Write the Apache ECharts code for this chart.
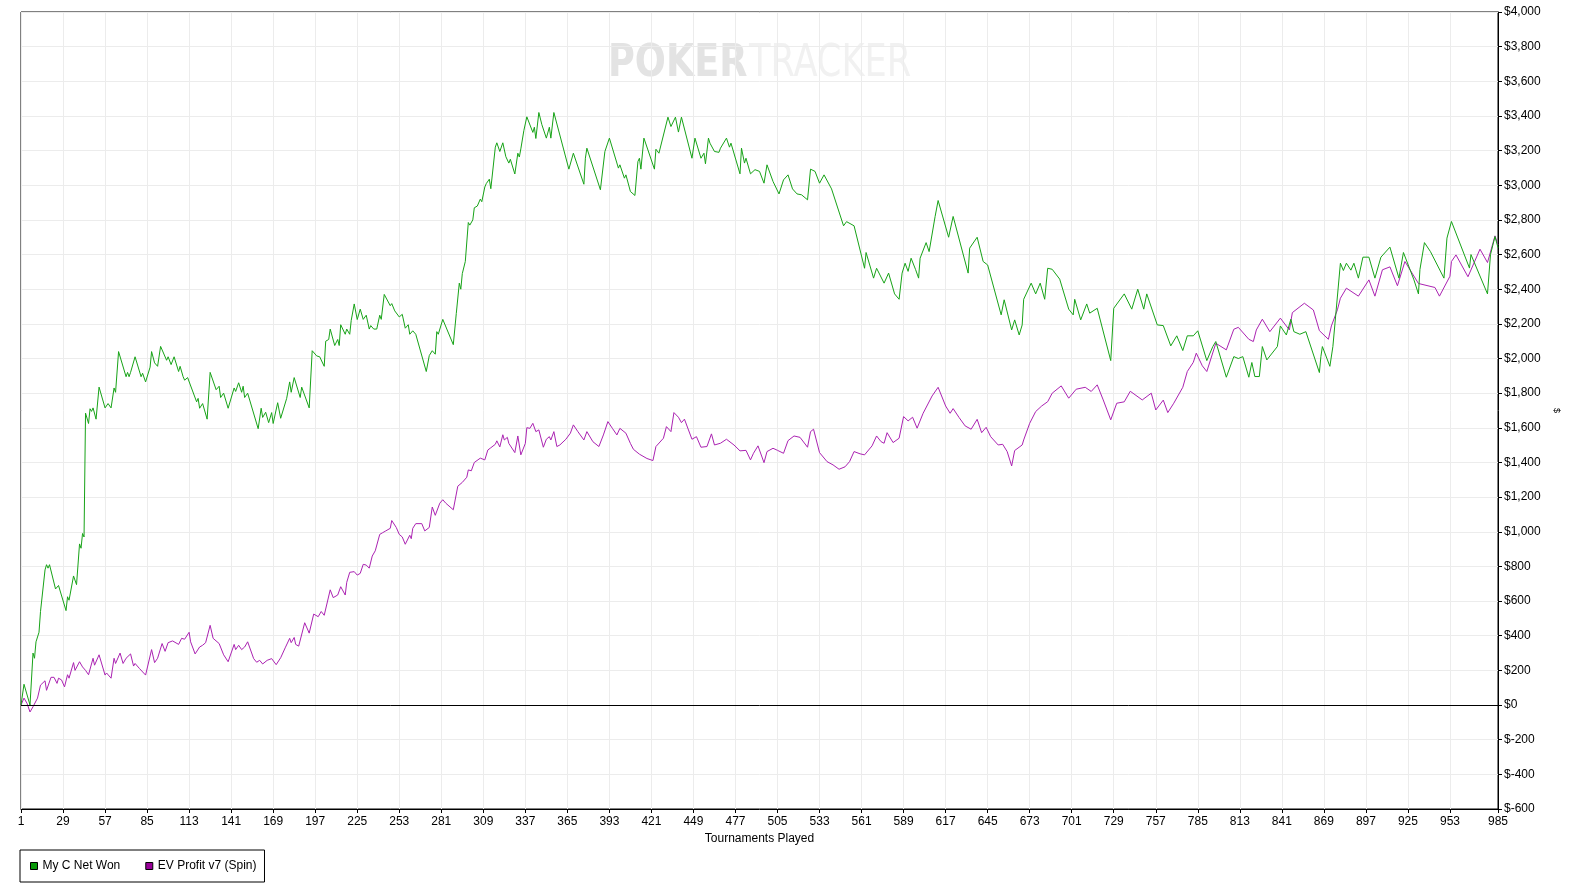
<!DOCTYPE html>
<html><head><meta charset="utf-8">
<script src="https://cdn.jsdelivr.net/npm/echarts@6/dist/echarts.min.js"></script>
<style>html,body{margin:0;padding:0;background:#fff}#c{width:1574px;height:889px}</style>
</head><body><div id="c"></div>
<script>
// X tick labels (tournament numbers)
const xTicks = [1,29,57,85,113,141,169,197,225,253,281,309,337,365,393,421,449,477,505,533,561,589,617,645,673,701,729,757,785,813,841,869,897,925,953,985];

// Series 1: My C Net Won — tournament index / cumulative $
const netWonT = [1,3,7,9,10,11,13,14,17,18,19,20,24,26,31,32,33,36,38,40,41,42,43,44,46,47,48,49,51,53,57,59,61,63,64,66,71,72,73,74,77,81,82,84,87,88,90,92,94,98,99,101,103,106,107,109,110,112,118,119,120,122,125,127,131,133,134,136,139,143,144,146,148,149,150,152,159,161,162,164,166,168,169,172,174,178,180,181,183,187,188,193,195,198,200,203,204,206,207,210,212,213,214,217,218,220,221,223,225,227,229,231,233,234,236,238,240,241,243,244,247,248,250,251,253,255,257,259,260,262,264,271,273,275,277,278,279,282,283,289,291,293,294,295,297,299,300,302,303,305,307,308,310,311,313,314,317,318,320,322,324,326,327,330,332,333,334,336,338,342,343,344,346,348,351,353,354,356,366,369,376,377,378,387,390,393,399,400,403,404,407,410,412,413,414,416,423,424,426,432,434,437,439,441,448,450,454,456,457,459,460,463,466,467,471,473,474,480,481,483,484,487,490,493,496,498,502,506,509,512,515,518,521,525,527,530,533,536,541,549,551,556,563,564,569,571,576,579,583,586,588,590,592,594,597,599,600,604,606,610,612,619,622,632,633,638,642,645,654,656,661,663,666,668,669,674,677,680,683,685,688,693,699,702,703,707,711,713,718,727,729,736,741,745,749,751,758,762,767,771,775,778,782,785,791,795,797,804,809,812,815,819,821,823,826,828,831,838,840,844,847,849,853,857,866,867,868,873,875,880,882,884,887,889,892,895,899,903,907,913,919,922,929,932,933,936,940,949,951,954,966,967,978,980,983,985];
const netWonV = [0,120,0,300,270,365,420,540,780,810,790,810,670,690,545,625,605,745,695,930,905,990,970,1685,1625,1710,1695,1715,1650,1835,1715,1740,1715,1830,1805,2040,1895,1920,1895,1920,2010,1895,1915,1865,1950,2040,1975,1955,2070,1990,2010,1965,2010,1925,1955,1895,1875,1890,1750,1770,1713,1740,1650,1920,1820,1840,1775,1800,1713,1830,1810,1860,1805,1840,1775,1800,1595,1713,1660,1690,1630,1688,1625,1745,1655,1770,1865,1805,1890,1775,1835,1715,2045,2015,2010,1955,2100,2110,2170,2075,2110,2075,2195,2140,2170,2140,2220,2315,2225,2285,2226,2250,2170,2190,2170,2170,2250,2226,2370,2370,2305,2317,2275,2283,2240,2255,2175,2195,2140,2160,2140,1925,2017,2045,2025,2155,2140,2226,2220,2080,2260,2435,2400,2490,2560,2785,2770,2800,2870,2880,2920,2905,2990,3010,3035,2980,3220,3245,3195,3245,3165,3128,3150,3065,3185,3163,3210,3315,3395,3305,3335,3270,3420,3350,3272,3335,3272,3420,3093,3185,3006,3156,3214,2974,3195,3272,3099,3118,3041,3060,2964,2941,3137,3156,3093,3272,3093,3208,3185,3393,3339,3393,3307,3393,3156,3272,3156,3185,3124,3272,3243,3195,3190,3214,3272,3220,3243,3066,3214,3128,3156,3066,3090,3080,3012,3118,3022,2950,3031,3060,2979,2950,2945,2916,3093,3080,3012,3060,2979,2766,2790,2766,2521,2612,2464,2521,2435,2493,2373,2342,2493,2550,2503,2579,2513,2464,2579,2669,2617,2820,2912,2700,2820,2493,2637,2700,2560,2540,2252,2339,2165,2223,2136,2194,2342,2435,2373,2435,2342,2521,2515,2458,2285,2252,2342,2223,2315,2262,2290,1988,2290,2373,2285,2400,2285,2373,2194,2190,2073,2131,2046,2131,2131,2160,1988,2069,2098,1892,2011,2000,2011,1892,1977,1896,1896,2069,1992,2069,2188,2136,2227,2155,2140,2155,1919,2011,2069,1955,2069,2550,2508,2550,2510,2550,2464,2585,2585,2464,2585,2643,2464,2612,2454,2373,2514,2669,2617,2464,2695,2791,2522,2600,2373,2600,2704,2640];

// Series 2: EV Profit v7 (Spin)
const evT = [1,3,5,7,9,12,14,17,18,21,23,25,26,28,30,32,33,36,37,40,42,44,46,49,50,53,57,58,61,63,64,67,69,71,74,76,77,80,84,88,90,92,95,97,99,102,106,108,110,113,114,117,118,120,122,124,127,129,133,136,139,143,144,146,148,150,152,153,156,158,160,162,165,168,171,174,177,180,181,183,184,186,190,193,196,199,201,203,207,209,212,213,214,217,218,220,223,225,227,229,231,233,235,237,240,242,244,247,248,251,253,255,257,260,261,262,264,268,270,273,275,277,278,280,282,284,289,292,295,298,299,301,303,307,310,312,314,317,318,320,322,323,325,326,330,332,334,337,338,340,342,344,346,349,351,353,354,356,358,360,364,367,369,372,376,378,382,386,389,392,395,398,400,404,407,409,413,418,422,424,429,431,434,436,439,441,443,448,451,454,458,461,463,467,471,476,480,484,487,489,492,496,498,502,505,509,512,516,520,525,527,529,533,538,542,546,550,553,556,560,563,568,571,574,576,578,582,586,589,592,595,598,602,608,612,617,620,622,626,630,634,638,641,644,647,652,655,658,661,663,668,669,673,677,681,685,688,694,699,704,710,714,718,722,727,731,736,740,748,754,757,762,765,769,775,778,782,784,788,791,797,804,809,812,819,822,824,828,833,840,846,848,856,862,866,872,874,878,880,884,892,899,903,908,913,918,923,932,943,946,953,954,957,965,973,978,983,985];
const evV = [0,40,10,-40,-10,40,115,140,85,160,160,125,155,145,105,175,155,245,200,250,220,200,175,270,230,290,173,185,155,270,240,300,240,270,295,225,240,210,173,320,245,270,355,310,360,370,350,385,380,420,365,295,300,335,345,360,460,385,355,290,250,350,320,345,320,335,365,360,268,247,258,237,258,268,233,273,330,385,360,390,350,340,475,415,525,510,540,518,665,620,635,625,683,635,708,766,770,750,760,812,808,790,860,890,985,995,1005,1020,1065,1025,985,970,928,980,960,1020,1047,1047,1005,1025,1143,1095,1100,1165,1185,1165,1127,1263,1285,1315,1357,1352,1400,1425,1415,1472,1485,1505,1525,1490,1560,1530,1545,1510,1457,1553,1444,1510,1601,1597,1626,1578,1588,1488,1534,1549,1530,1578,1492,1501,1534,1569,1617,1578,1530,1578,1520,1492,1559,1636,1597,1559,1597,1569,1510,1476,1448,1423,1411,1492,1540,1607,1578,1688,1661,1630,1650,1534,1549,1488,1492,1565,1501,1511,1534,1501,1467,1470,1415,1453,1496,1399,1463,1482,1470,1453,1526,1553,1545,1488,1578,1592,1457,1405,1386,1361,1375,1405,1463,1450,1444,1496,1553,1520,1511,1572,1515,1540,1665,1640,1661,1598,1684,1784,1834,1726,1684,1711,1659,1611,1592,1649,1572,1603,1549,1501,1505,1463,1380,1469,1501,1530,1626,1694,1726,1751,1800,1842,1771,1823,1834,1810,1848,1761,1646,1742,1750,1811,1761,1800,1703,1760,1688,1742,1834,1925,1978,2031,1958,1925,2088,2050,2169,2180,2111,2098,2165,2227,2155,2233,2165,2265,2319,2280,2161,2111,2188,2281,2348,2406,2360,2454,2360,2512,2529,2420,2560,2433,2410,2360,2475,2560,2598,2472,2631,2554,2708,2655];

const seriesNames = ['My C Net Won', 'EV Profit v7 (Spin)'];
const lineColors = ['#17a317', '#ab23b2'];
const legendColors = ['#0a9a0a', '#990099'];

function zip(a, b) { return a.map((v, i) => [v, b[i]]); }
function money(v) {
  const s = String(Math.abs(v)).replace(/\B(?=(\d{3})+(?!\d))/g, ',');
  return '$' + (v < 0 ? '-' : '') + s;
}

const FONT = '"Liberation Sans", Arial, sans-serif';
const WM = '"DejaVu Sans Condensed", "Liberation Sans", sans-serif';
const chart = echarts.init(document.getElementById('c'), null, {renderer: 'canvas'});
chart.setOption({
  animation: false,
  backgroundColor: '#fff',
  grid: {left: 21, right: 76, top: 12, bottom: 80, show: true, borderColor: '#000', borderWidth: 1, backgroundColor: 'transparent'},
  graphic: [
    {type: 'text', x: 608, y: 65, scaleX: 0.925, z: -10, silent: true,
     style: {text: 'POKER', font: 'bold 44px ' + WM, fill: '#e3e3e3', verticalAlign: 'middle'}},
    {type: 'text', x: 749, y: 65, scaleX: 0.89, z: -10, silent: true,
     style: {text: 'TRACKER', font: '44px ' + WM, fill: '#f1f1f1', verticalAlign: 'middle'}}
  ],
  xAxis: {
    type: 'value', min: 1, max: 985,
    name: 'Tournaments Played', nameLocation: 'middle', nameGap: 24,
    nameTextStyle: {color: '#000', fontSize: 12, fontFamily: FONT},
    axisLine: {show: true, onZero: false, lineStyle: {color: '#000', width: 1}},
    axisTick: {show: true, length: 4, customValues: xTicks, lineStyle: {color: '#000'}},
    axisLabel: {customValues: xTicks, color: '#000', fontSize: 12, fontFamily: FONT, margin: 7, showMinLabel: true, showMaxLabel: true},
    splitLine: {show: true, lineStyle: {color: '#ececec', width: 1}}
  },
  yAxis: {
    type: 'value', position: 'right', min: -600, max: 4000, interval: 200,
    name: '$', nameLocation: 'middle', nameGap: 48, nameRotate: -90,
    nameTextStyle: {color: '#000', fontSize: 9, fontFamily: FONT},
    axisLine: {show: true, lineStyle: {color: '#000', width: 1}},
    axisTick: {show: true, length: 4, lineStyle: {color: '#000'}},
    axisLabel: {formatter: money, color: '#000', fontSize: 12, fontFamily: FONT, margin: 6},
    splitLine: {show: true, lineStyle: {color: '#ececec', width: 1}}
  },
  legend: {
    left: 20, top: 850, orient: 'horizontal', icon: 'rect',
    itemWidth: 7, itemHeight: 7, itemGap: 25,
    padding: [10, 8, 10, 10], borderColor: '#000', borderWidth: 1, borderRadius: 0,
    textStyle: {color: '#000', fontSize: 12, fontFamily: FONT},
    data: seriesNames.map((n, i) => ({name: n, itemStyle: {color: legendColors[i], borderColor: '#000', borderWidth: 1}}))
  },
  series: [
    {
      name: seriesNames[1], type: 'line', data: zip(evT, evV),
      showSymbol: false, symbol: 'none', smooth: false,
      lineStyle: {color: lineColors[1], width: 1}, itemStyle: {color: lineColors[1]}, z: 2
    },
    {
      name: seriesNames[0], type: 'line', data: zip(netWonT, netWonV),
      showSymbol: false, symbol: 'none', smooth: false,
      lineStyle: {color: lineColors[0], width: 1}, itemStyle: {color: lineColors[0]}, z: 3,
      markLine: {silent: true, symbol: 'none', label: {show: false},
        lineStyle: {color: '#000', width: 1, type: 'solid'}, data: [{yAxis: 0}]}
    }
  ]
});
</script>
</body></html>
